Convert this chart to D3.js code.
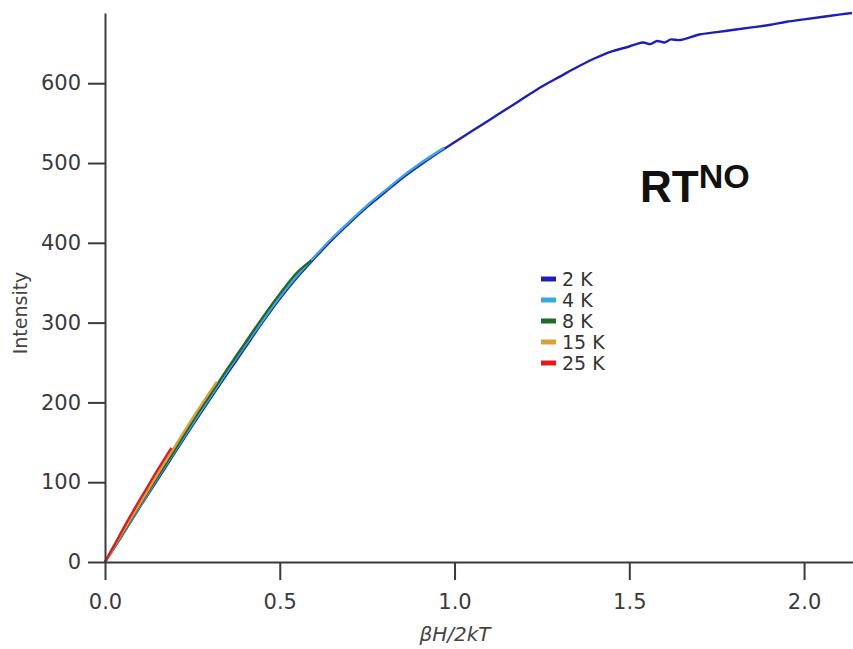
<!DOCTYPE html>
<html>
<head>
<meta charset="utf-8">
<script src="https://cdn.jsdelivr.net/npm/d3@7"></script>
<style>
  body { margin: 0; background: #fff; }
  svg { display: block; }
</style>
</head>
<body>
<svg id="chart" width="853" height="649"></svg>
<script>
  // values
  const x2K = [0, 0.05, 0.10, 0.15, 0.20, 0.25, 0.30, 0.35, 0.40, 0.45, 0.50, 0.55, 0.60, 0.65, 0.70, 0.75, 0.80, 0.85, 0.90, 0.95, 1.00, 1.05, 1.10, 1.15, 1.20, 1.25, 1.30, 1.35, 1.40, 1.45, 1.50, 1.52, 1.54, 1.56, 1.58, 1.60, 1.62, 1.64, 1.70, 1.75, 1.80, 1.85, 1.90, 1.95, 2.00, 2.05, 2.10, 2.137]
  const y2K = [0, 34, 69, 103, 137, 171, 204, 236, 268, 300, 330, 357, 381, 404, 425, 445, 463, 481, 497, 512, 526, 540, 554, 568, 582, 596, 608, 620, 631, 640, 646, 649, 651, 649, 653, 651, 655, 654, 661, 664, 667, 670, 673, 677, 680, 683, 686, 688]

  const x4K = [0, 0.05, 0.10, 0.15, 0.20, 0.25, 0.30, 0.35, 0.40, 0.45, 0.50, 0.55, 0.60, 0.65, 0.70, 0.75, 0.80, 0.85, 0.90, 0.97]
  const y4K = [0, 35, 70, 105, 139, 173, 206, 239, 271, 302, 332, 359, 383, 406, 427, 447, 465, 483, 499, 519]

  const x8K = [0, 0.05, 0.10, 0.15, 0.20, 0.25, 0.30, 0.35, 0.40, 0.45, 0.50, 0.55, 0.59]
  const y8K = [0, 36, 72, 107, 141, 176, 209, 242, 274, 306, 336, 363, 378]

  const x15K = [0, 0.04, 0.08, 0.12, 0.16, 0.20, 0.24, 0.28, 0.32]
  const y15K = [0, 30, 59, 88, 117, 145, 173, 200, 226]

  const x25K = [0, 0.03, 0.06, 0.09, 0.12, 0.15, 0.19]
  const y25K = [0, 24, 48, 71, 93, 115, 143]

  const seriesNames = ["2 K", "4 K", "8 K", "15 K", "25 K"]
  const seriesColors = ["#1f1fb8", "#38a8e0", "#1d6a2a", "#d9a234", "#e41a1a"]
  const xTickValues = [0, 0.5, 1.0, 1.5, 2.0]
  const yTickValues = [0, 100, 200, 300, 400, 500, 600]

  const series = [
    { name: seriesNames[0], color: seriesColors[0], xs: x2K, ys: y2K },
    { name: seriesNames[1], color: seriesColors[1], xs: x4K, ys: y4K },
    { name: seriesNames[2], color: seriesColors[2], xs: x8K, ys: y8K },
    { name: seriesNames[3], color: seriesColors[3], xs: x15K, ys: y15K },
    { name: seriesNames[4], color: seriesColors[4], xs: x25K, ys: y25K }
  ]

  const width = 853, height = 649
  const margin = { top: 13, right: 0, bottom: 87, left: 105 }
  const innerWidth = width - margin.left - margin.right
  const innerHeight = height - margin.top - margin.bottom

  const svg = d3.select("#chart")
  const g = svg.append("g").attr("transform", `translate(${margin.left}, ${margin.top})`)

  const xScale = d3.scaleLinear().domain([0, 2.14]).range([0, innerWidth])
  const yScale = d3.scaleLinear().domain([0, 688]).range([innerHeight, 0])

  const line = d3.line()
    .x(d => xScale(d[0]))
    .y(d => yScale(d[1]))
    .curve(d3.curveMonotoneX)

  // curves
  series.forEach(s => {
    const pts = s.xs.map((x, i) => [x, s.ys[i]])
    g.append("path")
      .datum(pts)
      .attr("fill", "none")
      .attr("stroke", s.color)
      .attr("stroke-width", 2.4)
      .attr("stroke-linejoin", "round")
      .attr("d", line)
  })

  // axes
  const xAxis = d3.axisBottom(xScale)
    .tickValues(xTickValues)
    .tickFormat(d3.format(".1f"))
    .tickSize(18)
    .tickSizeOuter(0)
    .tickPadding(14)

  const yAxis = d3.axisLeft(yScale)
    .tickValues(yTickValues)
    .tickSize(17)
    .tickSizeOuter(0)
    .tickPadding(7)

  const axisFont = "'DejaVu Sans', Verdana, sans-serif"

  g.append("g").attr("transform", `translate(0, ${innerHeight})`)
    .call(xAxis)
    .attr("font-size", 21).attr("font-family", axisFont)
    .call(a => a.selectAll(".domain, .tick line").attr("stroke", "#3a3a3a").attr("stroke-width", 2))
    .call(a => a.selectAll("text").attr("fill", "#3a3a3a"))

  g.append("g")
    .call(yAxis)
    .attr("font-size", 21).attr("font-family", axisFont)
    .call(a => a.selectAll(".domain, .tick line").attr("stroke", "#3a3a3a").attr("stroke-width", 2))
    .call(a => a.selectAll("text").attr("fill", "#3a3a3a"))

  // axis titles
  svg.append("text")
    .attr("transform", "translate(27, 313) rotate(-90)")
    .attr("text-anchor", "middle")
    .attr("fill", "#444")
    .attr("font-family", axisFont)
    .attr("font-size", 19)
    .text("Intensity")

  svg.append("text")
    .attr("x", 455).attr("y", 641)
    .attr("text-anchor", "middle")
    .attr("fill", "#444")
    .attr("font-family", axisFont)
    .attr("font-size", 20)
    .attr("font-style", "italic")
    .text("βH/2kT")

  // legend
  const legend = svg.append("g").attr("transform", "translate(541, 279)")
  series.forEach((s, i) => {
    const row = legend.append("g").attr("transform", `translate(0, ${i * 21})`)
    row.append("line")
      .attr("x1", 0).attr("x2", 15)
      .attr("y1", 0).attr("y2", 0)
      .attr("stroke", s.color)
      .attr("stroke-width", 5)
    row.append("text")
      .attr("x", 21).attr("y", 0).attr("dy", "0.36em")
      .attr("fill", "#333")
      .attr("font-family", axisFont)
      .attr("font-size", 19)
      .text(s.name)
  })

  // panel label
  const label = svg.append("text")
    .attr("x", 640).attr("y", 202)
    .attr("fill", "#111")
    .attr("font-family", "'Liberation Sans', Arial, sans-serif")
    .attr("font-weight", "bold")
    .attr("font-size", 44)
  label.append("tspan").text("RT")
  label.append("tspan").attr("dy", -14).attr("font-size", 34).text("NO")
</script>
</body>
</html>
